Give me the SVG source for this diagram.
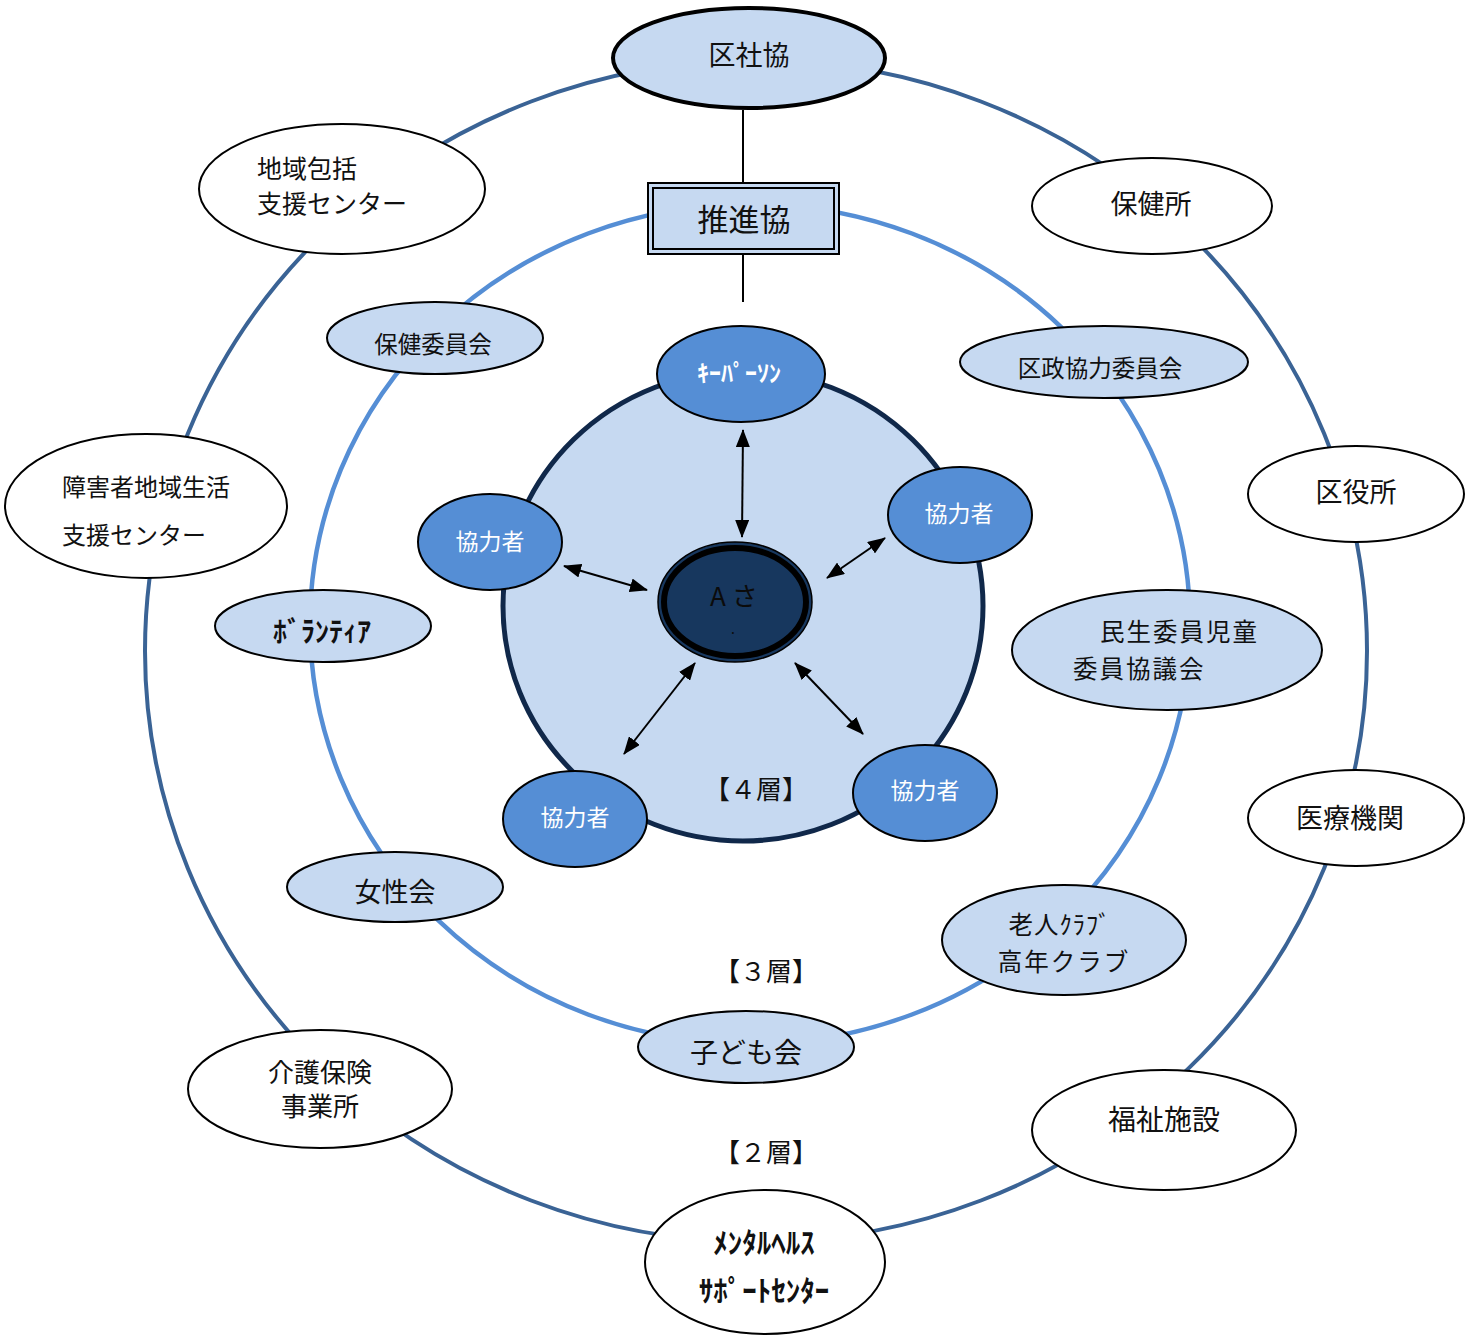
<svg xmlns="http://www.w3.org/2000/svg" width="1468" height="1336" viewBox="0 0 1468 1336">
<defs>
<style>
text{font-family:"Noto Sans CJK JP","Noto Sans",sans-serif;fill:#111;}
.w{fill:#fff;stroke:#000;stroke-width:2;}
.lb{fill:#C6D9F1;stroke:#000;stroke-width:2;}
.mb{fill:#558ED5;stroke:#000;stroke-width:2;}
.c{text-anchor:middle;}
.wt{fill:#fff;}
.conn{stroke:#000;stroke-width:2;fill:none;}
</style>
<marker id="ah" markerWidth="18" markerHeight="14" refX="17" refY="7" orient="auto-start-reverse" markerUnits="userSpaceOnUse">
<path d="M0,0 L18,7 L0,14 z" fill="#000"/>
</marker>
</defs>
<rect width="1468" height="1336" fill="#fff"/>
<g id="rings">
<ellipse cx="756" cy="651" rx="611" ry="591" fill="none" stroke="#3A6395" stroke-width="4"/>
<ellipse cx="750" cy="624" rx="440" ry="420" fill="none" stroke="#558ED5" stroke-width="4.5"/>
<ellipse cx="743" cy="606" rx="240" ry="235" fill="#C6D9F1" stroke="#10284A" stroke-width="5"/>
</g>
<g id="connectors">
<line class="conn" x1="743" y1="110" x2="743" y2="182"/>
<line class="conn" x1="743" y1="255" x2="743" y2="302"/>
<line class="conn" x1="743" y1="430" x2="742" y2="537" marker-start="url(#ah)" marker-end="url(#ah)"/>
<line class="conn" x1="564" y1="566" x2="647" y2="590" marker-start="url(#ah)" marker-end="url(#ah)"/>
<line class="conn" x1="885" y1="538" x2="827" y2="578" marker-start="url(#ah)" marker-end="url(#ah)"/>
<line class="conn" x1="695" y1="663" x2="624" y2="754" marker-start="url(#ah)" marker-end="url(#ah)"/>
<line class="conn" x1="795" y1="663" x2="863" y2="734" marker-start="url(#ah)" marker-end="url(#ah)"/>
</g>
<g id="kushakyo">
<ellipse cx="749" cy="58" rx="136" ry="50" fill="#C6D9F1" stroke="#000" stroke-width="4"/>
<text class="c" x="749" y="65" font-size="27">区社協</text>
</g>
<g id="suishinkyo">
<rect x="648" y="183" width="191" height="71" fill="#C6D9F1" stroke="#000" stroke-width="2"/>
<rect x="653" y="188" width="181" height="61" fill="none" stroke="#000" stroke-width="2"/>
<text class="c" x="744" y="231" font-size="31">推進協</text>
</g>
<g id="chiiki">
<ellipse class="w" cx="342" cy="189" rx="143" ry="65"/>
<text x="257" y="178" font-size="25">地域包括</text>
<text x="257" y="213" font-size="25">支援センター</text>
</g>
<g id="shogai">
<ellipse class="w" cx="146" cy="506" rx="141" ry="72"/>
<text x="62" y="496" font-size="24">障害者地域生活</text>
<text x="62" y="544" font-size="24">支援センター</text>
</g>
<g id="hokenjo">
<ellipse class="w" cx="1152" cy="206" rx="120" ry="48"/>
<text class="c" x="1151" y="214" font-size="27">保健所</text>
</g>
<g id="kuyakusho">
<ellipse class="w" cx="1356" cy="494" rx="108" ry="48"/>
<text class="c" x="1356" y="502" font-size="27">区役所</text>
</g>
<g id="iryo">
<ellipse class="w" cx="1356" cy="818" rx="108" ry="48"/>
<text class="c" x="1350" y="828" font-size="27">医療機関</text>
</g>
<g id="fukushi">
<ellipse class="w" cx="1164" cy="1130" rx="132" ry="60"/>
<text class="c" x="1164" y="1130" font-size="28">福祉施設</text>
</g>
<g id="mental">
<ellipse class="w" cx="765" cy="1262" rx="120" ry="72"/>
<text class="c" x="764" y="1254" font-size="29" font-weight="bold">ﾒﾝﾀﾙﾍﾙｽ</text>
<text class="c" x="764" y="1302" font-size="29" font-weight="bold">ｻﾎﾟｰﾄｾﾝﾀｰ</text>
</g>
<g id="kaigo">
<ellipse class="w" cx="320" cy="1089" rx="132" ry="59"/>
<text class="c" x="320" y="1082" font-size="26">介護保険</text>
<text class="c" x="320" y="1116" font-size="26">事業所</text>
</g>
<g id="hokeniinkai">
<ellipse class="lb" cx="435" cy="338" rx="108" ry="36"/>
<text class="c" x="433" y="353" font-size="23.5">保健委員会</text>
</g>
<g id="kusei">
<ellipse class="lb" cx="1104" cy="362" rx="144" ry="36"/>
<text class="c" x="1100" y="377" font-size="23.5">区政協力委員会</text>
</g>
<g id="minsei">
<ellipse class="lb" cx="1167" cy="650" rx="155" ry="60"/>
<text x="1100" y="641" font-size="24.5" letter-spacing="2">民生委員児童</text>
<text x="1073" y="678" font-size="24.5" letter-spacing="2">委員協議会</text>
</g>
<g id="volunteer">
<ellipse class="lb" cx="323" cy="626" rx="108" ry="36"/>
<text class="c" x="322" y="642" font-size="28" font-weight="bold">ﾎﾞﾗﾝﾃｨｱ</text>
</g>
<g id="josei">
<ellipse class="lb" cx="395" cy="887" rx="108" ry="35"/>
<text class="c" x="395" y="902" font-size="27">女性会</text>
</g>
<g id="kodomo">
<ellipse class="lb" cx="746" cy="1047" rx="108" ry="36"/>
<text class="c" x="746" y="1063" font-size="28">子ども会</text>
</g>
<g id="rojin">
<ellipse class="lb" cx="1064" cy="940" rx="122" ry="55"/>
<text class="c" x="1060" y="934" font-size="24.5" letter-spacing="1">老人ｸﾗﾌﾞ</text>
<text class="c" x="1064" y="971" font-size="24.5" letter-spacing="2">高年クラブ</text>
</g>
<g id="keyperson">
<ellipse class="mb" cx="741" cy="374" rx="84" ry="48"/>
<text class="c wt" x="739" y="382" font-size="24" font-weight="bold">ｷｰﾊﾟｰｿﾝ</text>
</g>
<g id="kyoryoku1">
<ellipse class="mb" cx="490" cy="542" rx="72" ry="48"/>
<text class="c wt" x="490" y="550" font-size="23">協力者</text>
</g>
<g id="kyoryoku2">
<ellipse class="mb" cx="960" cy="515" rx="72" ry="48"/>
<text class="c wt" x="959" y="522" font-size="23">協力者</text>
</g>
<g id="kyoryoku3">
<ellipse class="mb" cx="575" cy="819" rx="72" ry="48"/>
<text class="c wt" x="575" y="826" font-size="23">協力者</text>
</g>
<g id="kyoryoku4">
<ellipse class="mb" cx="925" cy="793" rx="72" ry="48"/>
<text class="c wt" x="925" y="799" font-size="23">協力者</text>
</g>
<g id="asan">
<ellipse cx="735" cy="602" rx="77" ry="60" fill="#17375E" stroke="#000" stroke-width="1.5"/>
<ellipse cx="735" cy="602" rx="71" ry="54" fill="#17375E" stroke="#000" stroke-width="6"/>
<text x="710" y="606" font-size="26" style="fill:#0b0b0b">A さ</text>
<text class="c" x="733" y="634" font-size="14" style="fill:#0b0b0b">.</text>
</g>
<g id="labels">
<text class="c" x="756" y="799" font-size="26">【４層】</text>
<text class="c" x="766" y="981" font-size="26">【３層】</text>
<text class="c" x="766" y="1162" font-size="26">【２層】</text>
</g>
</svg>
